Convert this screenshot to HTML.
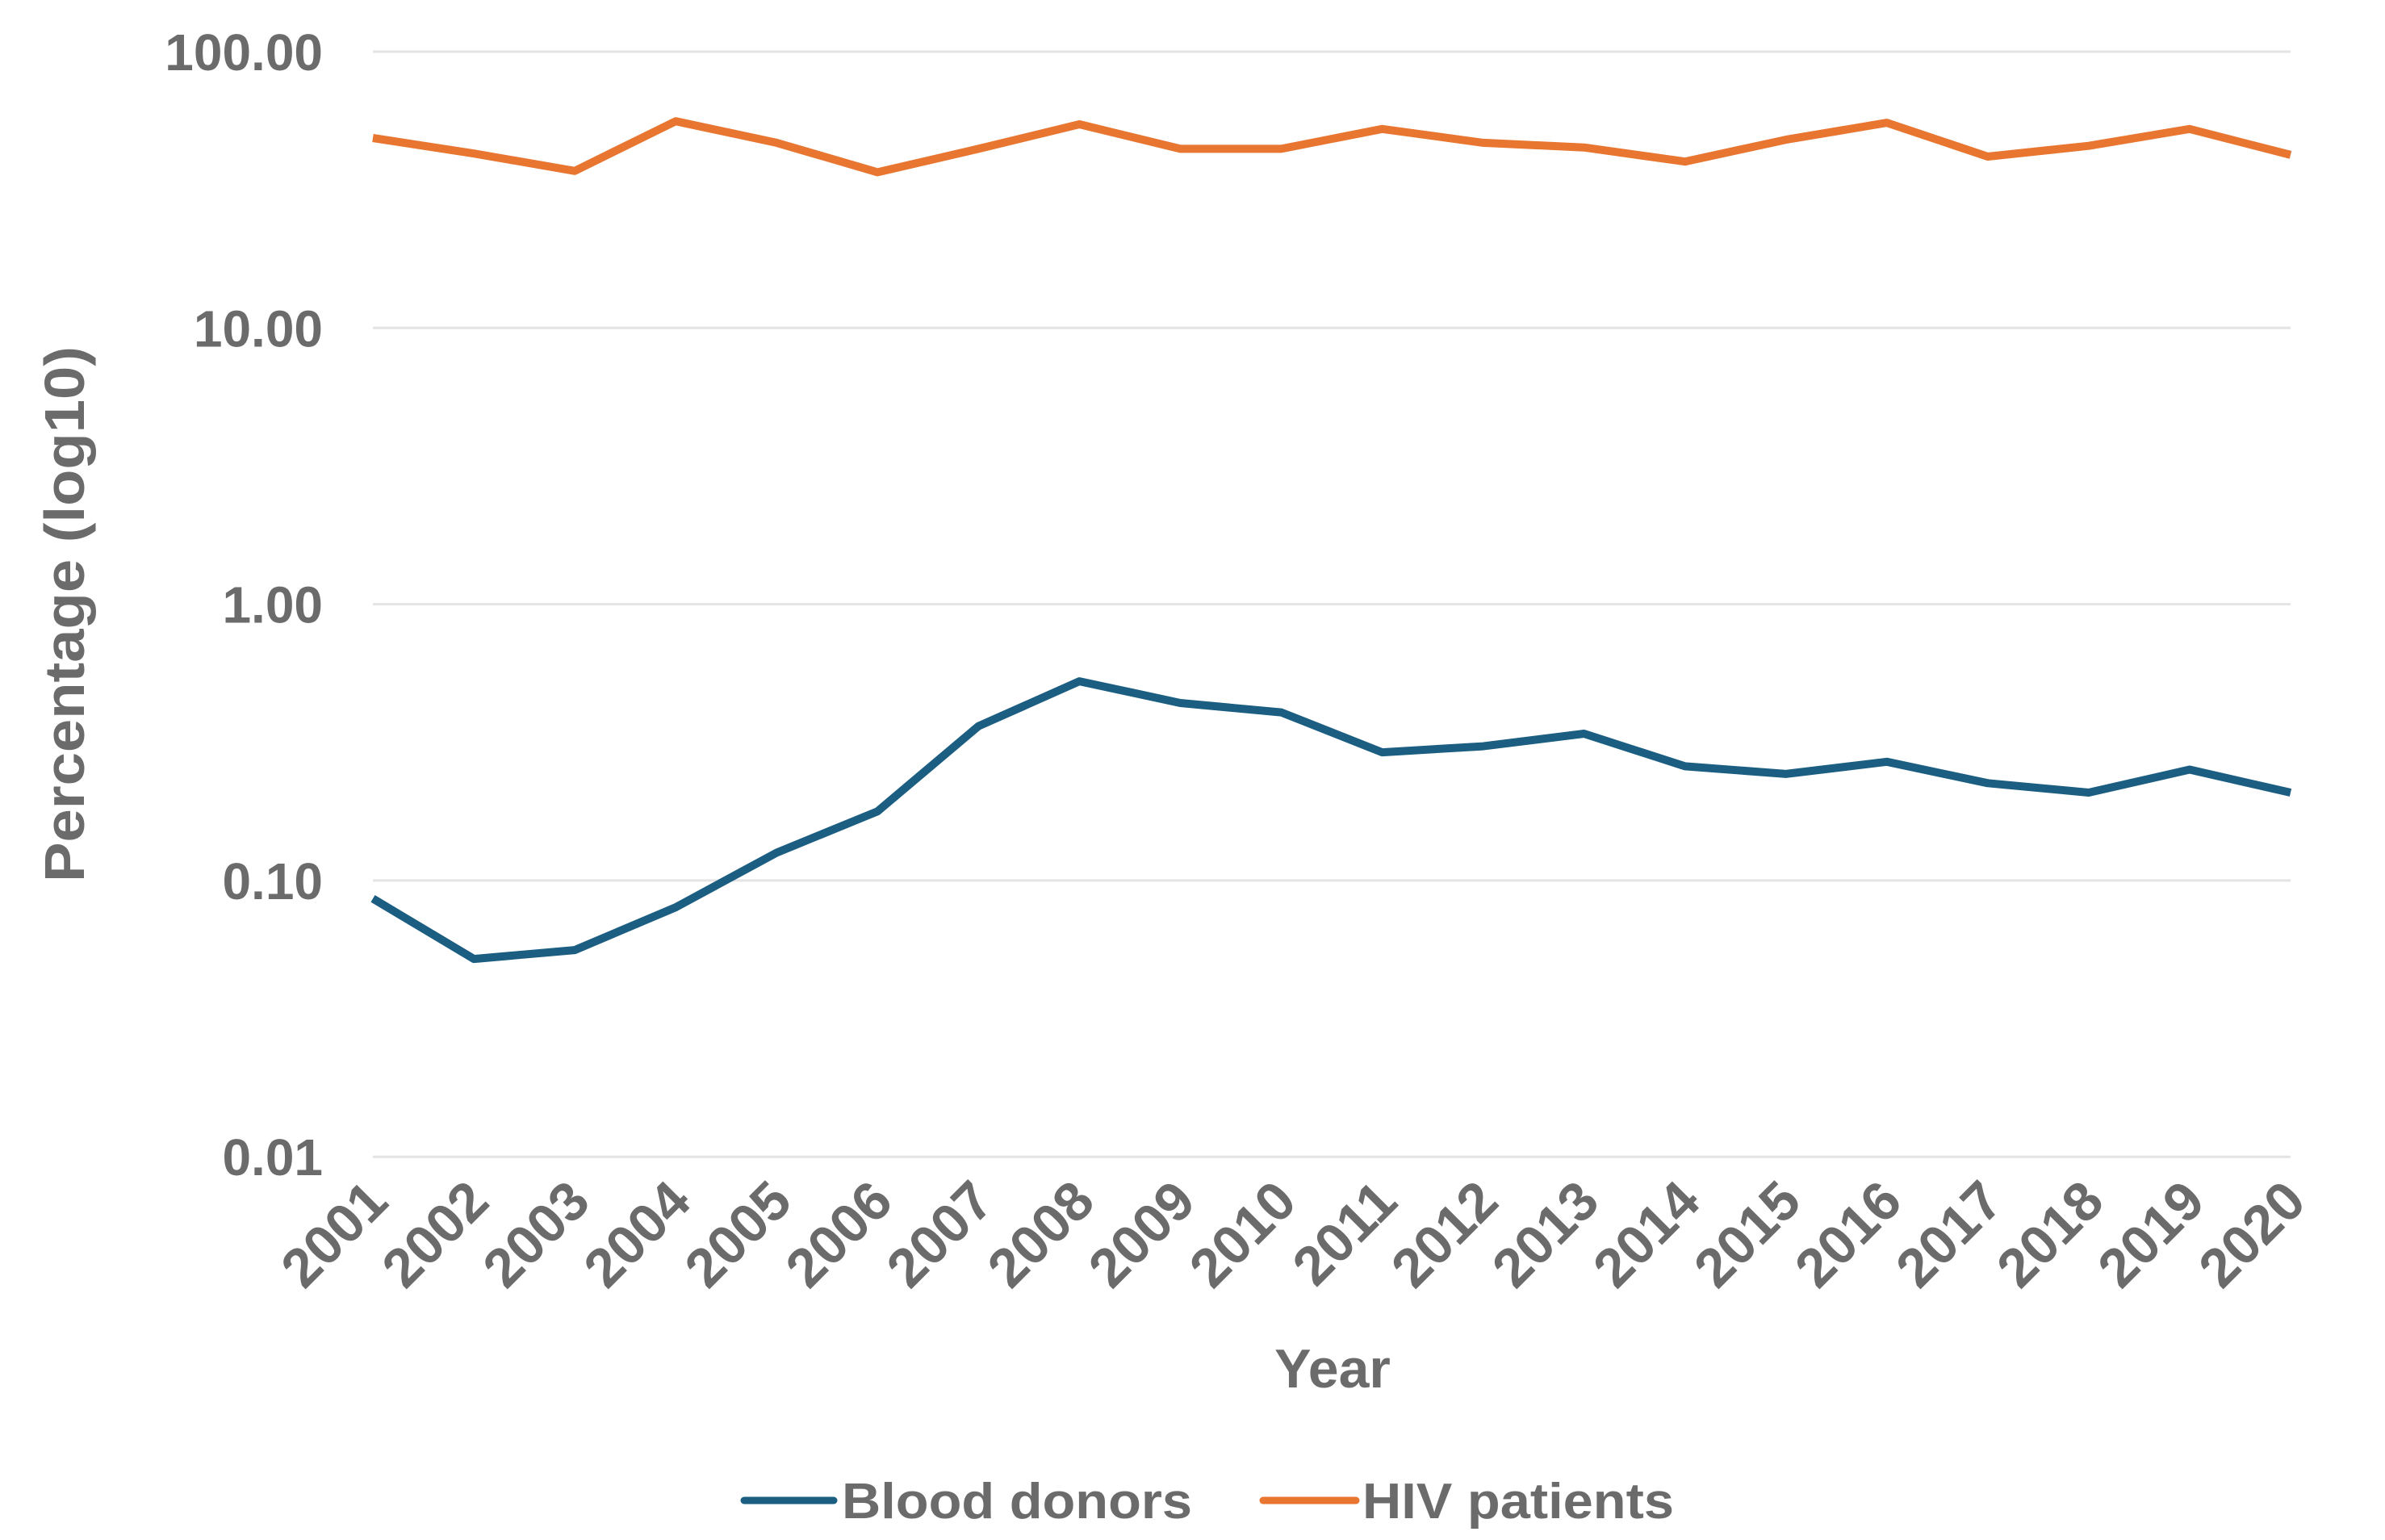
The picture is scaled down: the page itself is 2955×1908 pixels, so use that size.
<!DOCTYPE html>
<html><head><meta charset="utf-8"><style>
html,body{margin:0;padding:0;background:#fff;}
svg{display:block;font-family:"Liberation Sans",Arial,sans-serif;font-weight:bold;}
</style></head><body>
<svg id="chart" width="2955" height="1908" viewBox="0 0 2955 1908" xmlns="http://www.w3.org/2000/svg">
<g id="grid"></g>
<g id="yticks"></g>
<g id="xticks"></g>
<g id="series"></g>
<text x="0" y="0" transform="translate(104,761) rotate(-90)" text-anchor="middle" font-size="70" fill="#6b6b6b" textLength="664" lengthAdjust="spacingAndGlyphs">Percentage (log10)</text>
<text x="1651" y="1719" text-anchor="middle" font-size="68" fill="#6b6b6b">Year</text>
<g>
<g>
<line x1="922" y1="1859" x2="1033" y2="1859" stroke="#1b5e82" stroke-width="9" stroke-linecap="round"/>
<text x="1043" y="1881" font-size="62" fill="#6b6b6b" textLength="434" lengthAdjust="spacingAndGlyphs">Blood donors</text>
</g>
<g>
<line x1="1565" y1="1859" x2="1680" y2="1859" stroke="#e87530" stroke-width="9" stroke-linecap="round"/>
<text x="1688" y="1881" font-size="62" fill="#6b6b6b" textLength="386" lengthAdjust="spacingAndGlyphs">HIV patients</text>
</g>
</g>
</svg>
<script>
const years = [2001,2002,2003,2004,2005,2006,2007,2008,2009,2010,2011,2012,2013,2014,2015,2016,2017,2018,2019,2020];
const bloodDonors = [0.086,0.052,0.056,0.080,0.126,0.178,0.362,0.526,0.439,0.406,0.291,0.306,0.340,0.259,0.243,0.269,0.225,0.208,0.252,0.208];
const hivPatients = [48.7,42.8,37.0,56.0,46.8,36.6,44.5,54.6,44.5,44.5,52.5,46.8,45.0,40.0,48.0,55.3,41.7,45.6,52.5,42.3];
const yTickValues = [100,10,1,0.1,0.01];
const yTickLabels = ["100.00","10.00","1.00","0.10","0.01"];

const NS = "http://www.w3.org/2000/svg";
const X0 = 462, X1 = 2838, Y100 = 64, DEC = 342.3;
function xScale(i){ return X0 + (X1 - X0) * i / (years.length - 1); }
function yScale(v){ return Y100 + (2 - Math.log10(v)) * DEC; }
function mk(tag, attrs, parent){ const e = document.createElementNS(NS, tag); for (const k in attrs) e.setAttribute(k, attrs[k]); parent.appendChild(e); return e; }

const grid = document.getElementById('grid');
const yt = document.getElementById('yticks');
yTickValues.forEach((v, i) => {
  const y = yScale(v);
  const l = mk('line', {x1: X0, x2: X1, y1: y, y2: y, stroke: '#e4e4e4', 'stroke-width': 3}, grid);
  
  
  const t = mk('text', {x: 400, y: y + 23, 'text-anchor': 'end', 'font-size': 64, fill: '#6b6b6b'}, yt);
  
  
  t.textContent = yTickLabels[i];
});

const xt = document.getElementById('xticks');
years.forEach((yr, i) => {
  const x = xScale(i) + 22, y = 1492;
  const t = mk('text', {x: x, y: y, 'text-anchor': 'end', 'font-size': 68, fill: '#6b6b6b', transform: 'rotate(-45 ' + x + ' ' + y + ')'}, xt);
  
  
  t.textContent = String(yr);
});

const series = document.getElementById('series');
function drawLine(vals, color, name){
  const pts = vals.map((v, i) => xScale(i).toFixed(1) + ',' + yScale(v).toFixed(1)).join(' ');
  const p = mk('polyline', {points: pts, fill: 'none', stroke: color, 'stroke-width': 10, 'stroke-linejoin': 'round'}, series);
  
  
}
drawLine(bloodDonors, '#1b5e82', 'line-blood-donors');
drawLine(hivPatients, '#e87530', 'line-hiv-patients');
</script>
</body></html>
